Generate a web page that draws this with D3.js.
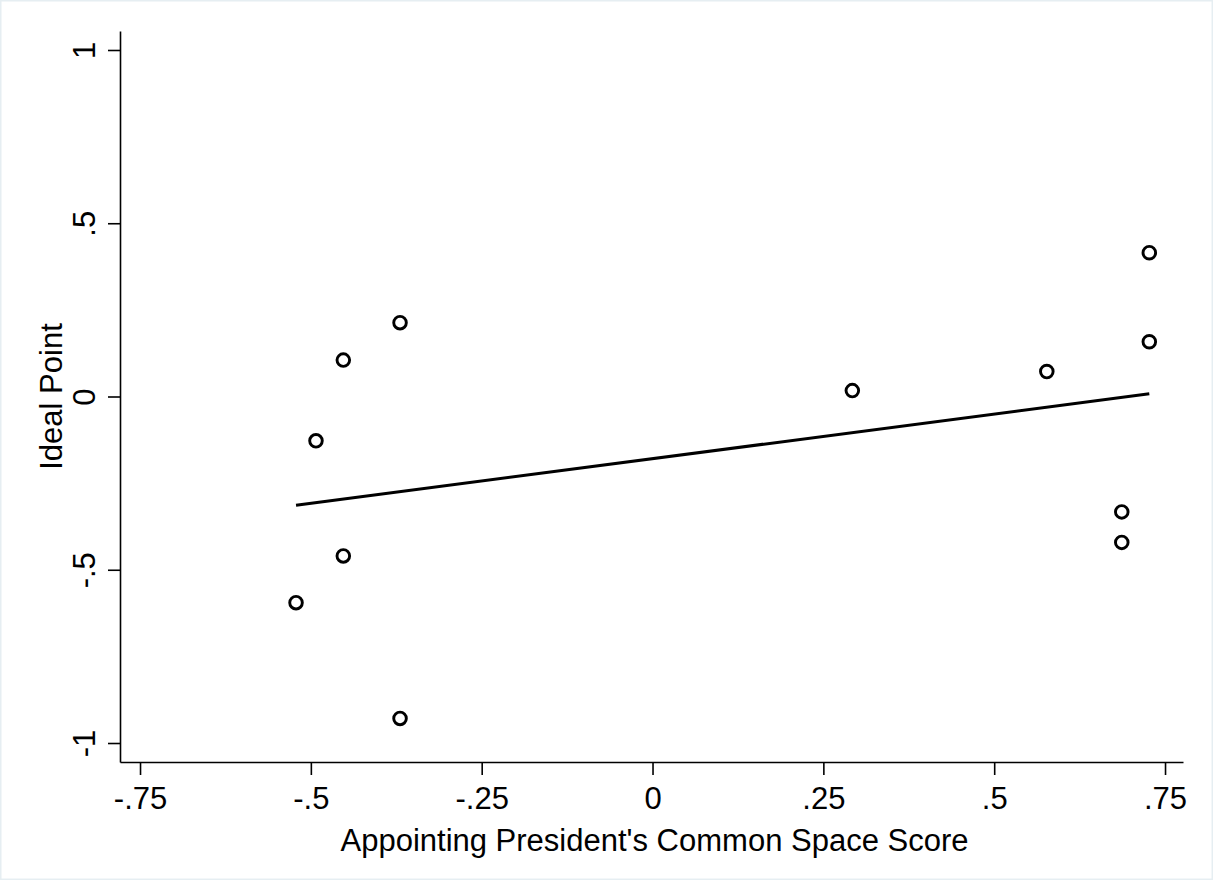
<!DOCTYPE html>
<html>
<head>
<meta charset="utf-8">
<script src="https://cdn.jsdelivr.net/npm/d3@7"></script>
<style>
  html, body { margin: 0; padding: 0; background: #fff; }
  svg { display: block; }
  text { font-family: "Liberation Sans", Arial, sans-serif; fill: #000; }
</style>
</head>
<body>
<svg id="chart" width="1213" height="880"></svg>
<script>
// Data
const appointScore = [-0.3695, -0.4525, -0.4925, -0.4525, -0.5217, -0.3695, 0.2924, 0.577, 0.727, 0.727, 0.6867, 0.6867];
const idealPoint   = [0.213, 0.105, -0.128, -0.460, -0.595, -0.929, 0.017, 0.072, 0.415, 0.158, -0.333, -0.421];
const xTicks = [-0.75, -0.5, -0.25, 0, 0.25, 0.5, 0.75];
const yTicks = [-1, -0.5, 0, 0.5, 1];
const xTitle = "Appointing President's Common Space Score";
const yTitle = "Ideal Point";

(function () {
const svg = d3.select("#chart");
const W = 1213, H = 880;
const mLeft = 120, mRight = 1183, mTop = 31, mBottom = 762;
const FS = "31px";

svg.append("rect").attr("x", 0.75).attr("y", 0.75).attr("width", W - 1.5).attr("height", H - 1.5)
  .attr("fill", "#fff").attr("stroke", "#e6eef2").attr("stroke-width", 1.5);

const x = d3.scaleLinear().domain([-0.7793, 0.7763]).range([mLeft, mRight]);
const y = d3.scaleLinear().domain([-1.0548, 1.0548]).range([mBottom, mTop]);

const fmt = d => d === 0 ? "0" : String(d).replace(/^(-?)0\./, "$1.");

// X axis
const gx = svg.append("g").attr("transform", `translate(0,${mBottom})`)
  .call(d3.axisBottom(x).tickValues(xTicks).tickFormat(fmt).tickSize(13).tickSizeOuter(0));
gx.select(".domain").attr("stroke", "#000").attr("stroke-width", 1.6);
gx.selectAll(".tick line").attr("stroke", "#000").attr("stroke-width", 1.6);
gx.selectAll(".tick text").attr("y", 47).attr("dy", 0)
  .style("font-size", FS).style("font-family", "Liberation Sans, Arial, sans-serif").attr("fill", "#000");

// Y axis
const gy = svg.append("g").attr("transform", `translate(${mLeft},0)`)
  .call(d3.axisLeft(y).tickValues(yTicks).tickFormat(fmt).tickSize(12).tickSizeOuter(0));
gy.select(".domain").attr("stroke", "#000").attr("stroke-width", 1.6);
gy.selectAll(".tick line").attr("stroke", "#000").attr("stroke-width", 1.6);
gy.selectAll(".tick text").attr("x", 0).attr("y", 0).attr("dy", 0)
  .attr("transform", "translate(-25,0) rotate(-90)").attr("text-anchor", "middle")
  .style("font-size", FS).style("font-family", "Liberation Sans, Arial, sans-serif").attr("fill", "#000");

// Titles
svg.append("text").attr("x", (mLeft + mRight) / 2 + 3).attr("y", 851).attr("text-anchor", "middle")
  .style("font-size", FS).text(xTitle);
svg.append("text").attr("transform", `translate(62,${(mTop + mBottom) / 2}) rotate(-90)`).attr("text-anchor", "middle")
  .style("font-size", FS).text(yTitle);

// Linear fit (OLS) over data range
const n = appointScore.length;
const mx = d3.mean(appointScore), my = d3.mean(idealPoint);
let sxy = 0, sxx = 0;
for (let i = 0; i < n; i++) { sxy += (appointScore[i] - mx) * (idealPoint[i] - my); sxx += (appointScore[i] - mx) ** 2; }
const b = sxy / sxx, a = my - b * mx;
const [x0, x1] = d3.extent(appointScore);
svg.append("path")
  .datum([[x0, a + b * x0], [x1, a + b * x1]])
  .attr("d", d3.line().x(d => x(d[0])).y(d => y(d[1])))
  .attr("fill", "none").attr("stroke", "#000").attr("stroke-width", 3);

// Points
svg.append("g").selectAll("circle").data(d3.range(n)).join("circle")
  .attr("cx", i => x(appointScore[i])).attr("cy", i => y(idealPoint[i]))
  .attr("r", 6.3).attr("fill", "none").attr("stroke", "#000").attr("stroke-width", 2.9);
})();
</script>
</body>
</html>
